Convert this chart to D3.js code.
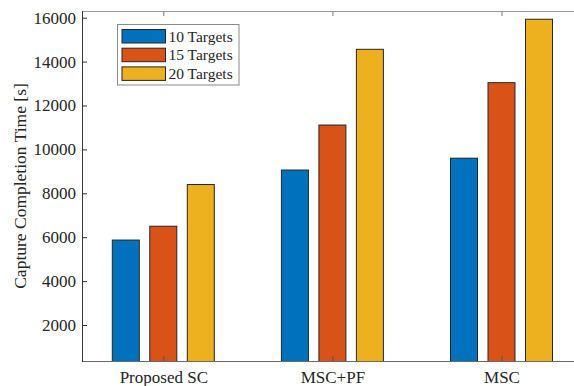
<!DOCTYPE html>
<html><head><meta charset="utf-8">
<script src="https://cdn.jsdelivr.net/npm/d3@7"></script>
<style>body{margin:0;background:#fff}svg{display:block}</style>
</head><body>
<svg id="c" width="574" height="386"></svg>
<script>
const categories = ["Proposed SC", "MSC+PF", "MSC"];
const seriesNames = ["10 Targets", "15 Targets", "20 Targets"];
const targets10 = [5870, 9060, 9600];
const targets15 = [6500, 11110, 13040];
const targets20 = [8400, 14560, 15930];
const yTicks = [2000, 4000, 6000, 8000, 10000, 12000, 14000, 16000];
const colors = ["#0072BD", "#D95319", "#EDB120"];

const seriesValues = [targets10, targets15, targets20];
const svg = d3.select("#c");
const font = "'Liberation Serif', 'Times New Roman', serif";
const L = 82, T = 11, R = 600, B = 361;

const x = d3.scaleBand().domain(categories).range([78.75, 586.05]).padding(0);
const xi = d3.scaleBand().domain(seriesNames).range([-56.25, 56.25]).paddingInner(0.28).paddingOuter(0.14);
const y = d3.scaleLinear().domain([0, 16000]).range([368.9, 17.7]);

svg.append("defs").append("clipPath").attr("id", "clip")
  .append("rect").attr("x", L).attr("y", T).attr("width", R - L).attr("height", B - T);

const plot = svg.append("g").attr("clip-path", "url(#clip)");
seriesNames.forEach((s, si) => {
  plot.selectAll(null).data(categories).enter().append("rect")
    .attr("x", c => x(c) + x.bandwidth() / 2 + xi(s))
    .attr("y", (c, ci) => y(seriesValues[si][ci]))
    .attr("width", xi.bandwidth())
    .attr("height", (c, ci) => B + 2 - y(seriesValues[si][ci]))
    .attr("fill", colors[si])
    .attr("stroke", "#262626").attr("stroke-width", 1);
});

// left axis
const yAxis = svg.append("g").attr("transform", `translate(${L},0)`)
  .call(d3.axisLeft(y).tickValues(yTicks).tickSizeInner(-5).tickSizeOuter(0).tickPadding(6).tickFormat(d3.format("d")));
yAxis.select(".domain").remove();
yAxis.selectAll(".tick line").attr("stroke", "#333");
yAxis.selectAll("text").attr("font-family", font).attr("font-size", 17).attr("fill", "#262626");

// bottom axis
const xc = c => x(c) + x.bandwidth() / 2;
const xAxisScale = d3.scalePoint().domain(categories).range([xc(categories[0]), xc(categories[2])]);
const xAxis = svg.append("g").attr("transform", `translate(0,${B})`)
  .call(d3.axisBottom(xAxisScale).tickSizeInner(-5).tickSizeOuter(0).tickPadding(10));
xAxis.select(".domain").remove();
xAxis.selectAll(".tick line").attr("stroke", "#555");
xAxis.selectAll("text").attr("font-family", font).attr("font-size", 17).attr("fill", "#262626");

// top axis ticks
const topAxis = svg.append("g").attr("transform", `translate(0,${T})`)
  .call(d3.axisTop(xAxisScale).tickSizeInner(-5).tickSizeOuter(0).tickFormat(""));
topAxis.select(".domain").remove();
topAxis.selectAll(".tick line").attr("stroke", "#777");

// frame
svg.append("line").attr("x1", L).attr("x2", 574).attr("y1", T + 0.5).attr("y2", T + 0.5).attr("stroke", "#9a9a9a");
svg.append("line").attr("x1", L).attr("x2", 574).attr("y1", B + 0.5).attr("y2", B + 0.5).attr("stroke", "#6a6a6a");
svg.append("line").attr("x1", L + 0.5).attr("x2", L + 0.5).attr("y1", T).attr("y2", B + 1).attr("stroke", "#333");

// y label
svg.append("text").attr("transform", `translate(26,${(T + B) / 2}) rotate(-90)`)
  .attr("text-anchor", "middle").attr("font-family", font).attr("font-size", 17.5).attr("fill", "#262626")
  .text("Capture Completion Time [s]");

// legend
const lg = svg.append("g");
lg.append("rect").attr("x", 117.5).attr("y", 24.5).attr("width", 121.5).attr("height", 60.5)
  .attr("fill", "#fff").attr("stroke", "#8a8a8a");
seriesNames.forEach((s, i) => {
  const ry = 29.5 + i * 18.7;
  lg.append("rect").attr("x", 122).attr("y", ry).attr("width", 43.5).attr("height", 13.5)
    .attr("fill", colors[i]).attr("stroke", "#262626");
  lg.append("text").attr("x", 168.5).attr("y", ry + 12).attr("font-family", font).attr("font-size", 15.5)
    .attr("fill", "#262626").text(s);
});
</script>
</body></html>
